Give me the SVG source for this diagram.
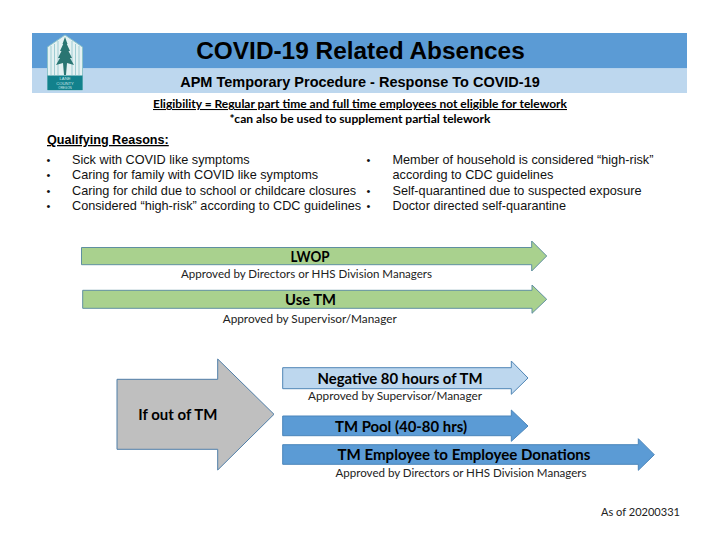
<svg xmlns="http://www.w3.org/2000/svg" width="720" height="557" viewBox="0 0 720 557">
<style>
text{font-family:"Liberation Sans",Arial,sans-serif;fill:#000}
.c{font-family:Lato,"Open Sans",sans-serif}
.m{text-anchor:middle}
.b{font-weight:700}
.li{font-size:12.7px;fill:#111}
.bu{font-size:11px;fill:#111}
.ap{font-size:11.4px;fill:#222}
.lb{font-size:15.4px;font-weight:700}
.lg{font-size:4.2px;fill:#cfe8ea}
.g{fill:#a9d18e;stroke:#5f8fa0;stroke-width:1}
.d{fill:#5b9bd5;stroke:#4a85bb;stroke-width:1}
.l{fill:#bdd7ee;stroke:#4f85b5;stroke-width:1}
.y{fill:#bfbfbf;stroke:#4f7ea8;stroke-width:1}
</style>
<rect width="720" height="557" fill="#fff"/>
<g id="header">
<rect x="32" y="33" width="655" height="35.500" fill="#5b9bd5"/>
<rect x="32" y="68.500" width="655" height="24.500" fill="#bdd7ee"/>
<text class="m b" x="360.500" y="59" font-size="24.400">COVID-19 Related Absences</text>
<text class="m b" x="360" y="87" font-size="14.500">APM Temporary Procedure - Response To COVID-19</text>
</g>
<g id="logo">
<path d="M47.500 47 L65 35 L82.500 47 L82.500 90 L47.500 90Z" fill="#e4f1f2" stroke="#8cc3ca" stroke-width="1"/>
<path d="M51 46V75M54.500 44V75M58 41V75M72 41V75M75.500 44V75M79 46V75" stroke="#9fcdd3" stroke-width="1" fill="none"/>
<path d="M65 37 L67.500 44 L66.800 44 L70 51 L68.500 51 L72 58 L70 58 L74 65 L67 63 L66 75 L64 75 L63 63 L56 65 L60 58 L58 58 L61.500 51 L60 51 L63.200 44 L62.500 44Z" fill="#2a7572"/>
<rect x="47.500" y="75.500" width="35" height="14.500" fill="#12818c"/>
<text class="m lg" x="65" y="80">LANE</text>
<text class="m lg" x="65" y="84.500">COUNTY</text>
<text class="m lg" x="65" y="88.500" style="font-size:3px">OREGON</text>
</g>
<g id="eligibility">
<text class="c m b" x="360" y="108" font-size="10.600" text-decoration="underline" textLength="414" lengthAdjust="spacingAndGlyphs">Eligibility = Regular part time and full time employees not eligible for telework</text>
<text class="c m b" x="360" y="123" font-size="10.600" textLength="261" lengthAdjust="spacingAndGlyphs">*can also be used to supplement partial telework</text>
</g>
<g id="reasons">
<text class="b" x="47" y="144" font-size="12.600" text-decoration="underline">Qualifying Reasons:</text>
<text class="bu" x="46.500" y="163.500">•</text><text class="li" x="72" y="163.500">Sick with COVID like symptoms</text>
<text class="bu" x="46.500" y="179">•</text><text class="li" x="72" y="179">Caring for family with COVID like symptoms</text>
<text class="bu" x="46.500" y="194.500">•</text><text class="li" x="72" y="194.500">Caring for child due to school or childcare closures</text>
<text class="bu" x="46.500" y="210">•</text><text class="li" x="72" y="210">Considered “high-risk” according to CDC guidelines</text>
<text class="bu" x="366.500" y="163.500">•</text><text class="li" x="392.500" y="163.500">Member of household is considered “high-risk”</text>
<text class="li" x="392.500" y="179">according to CDC guidelines</text>
<text class="bu" x="366.500" y="194.500">•</text><text class="li" x="392.500" y="194.500">Self-quarantined due to suspected exposure</text>
<text class="bu" x="366.500" y="210">•</text><text class="li" x="392.500" y="210">Doctor directed self-quarantine</text>
</g>
<g id="connectors">
<polygon class="g" points="81.500,247.500 531.700,247.500 531.700,241 546.700,256 531.700,271 531.700,264.700 81.500,264.700"/>
<polygon class="g" points="82.700,290.300 532,290.300 532,285 546.700,299.300 532,313.300 532,308.300 82.700,308.300"/>
<polygon class="y" points="117,379.300 217.700,379.300 217.700,359 274,414.300 217.700,470 217.700,449.300 117,449.300"/>
<polygon class="l" points="282.700,367.700 511.300,367.700 511.300,361 528,378 511.300,394.300 511.300,388.700 282.700,388.700"/>
<polygon class="d" points="282.700,416 511.300,416 511.300,410 528,426 511.300,441.300 511.300,435.700 282.700,435.700"/>
<polygon class="d" points="282.700,444.700 638.300,444.700 638.300,438.700 654.300,454.700 638.300,470.300 638.300,464.300 282.700,464.300"/>
</g>
<g id="lwop">
<text class="c m lb" x="310" y="261.500" textLength="39" lengthAdjust="spacingAndGlyphs">LWOP</text>
<text class="c m ap" x="306.500" y="278" textLength="251" lengthAdjust="spacingAndGlyphs">Approved by Directors or HHS Division Managers</text>
</g>
<g id="use-tm">
<text class="c m lb" x="310.500" y="305" textLength="51" lengthAdjust="spacingAndGlyphs">Use TM</text>
<text class="c m ap" x="309.700" y="323" textLength="174" lengthAdjust="spacingAndGlyphs">Approved by Supervisor/Manager</text>
</g>
<g id="out-of-tm">
<text class="c lb" x="138.300" y="420" textLength="79" lengthAdjust="spacingAndGlyphs">If out of TM</text>
</g>
<g id="negative">
<text class="c m lb" x="400" y="384" textLength="165" lengthAdjust="spacingAndGlyphs">Negative 80 hours of TM</text>
<text class="c m ap" x="395" y="400" textLength="174" lengthAdjust="spacingAndGlyphs">Approved by Supervisor/Manager</text>
</g>
<g id="pool">
<text class="c m lb" x="401" y="432" textLength="132" lengthAdjust="spacingAndGlyphs">TM Pool (40-80 hrs)</text>
</g>
<g id="donations">
<text class="c m lb" x="464" y="460" textLength="253" lengthAdjust="spacingAndGlyphs">TM Employee to Employee Donations</text>
<text class="c m ap" x="461" y="477" textLength="251" lengthAdjust="spacingAndGlyphs">Approved by Directors or HHS Division Managers</text>
</g>
<text id="as-of" class="c ap" x="601" y="516" textLength="79" lengthAdjust="spacingAndGlyphs">As of 20200331</text>
</svg>
